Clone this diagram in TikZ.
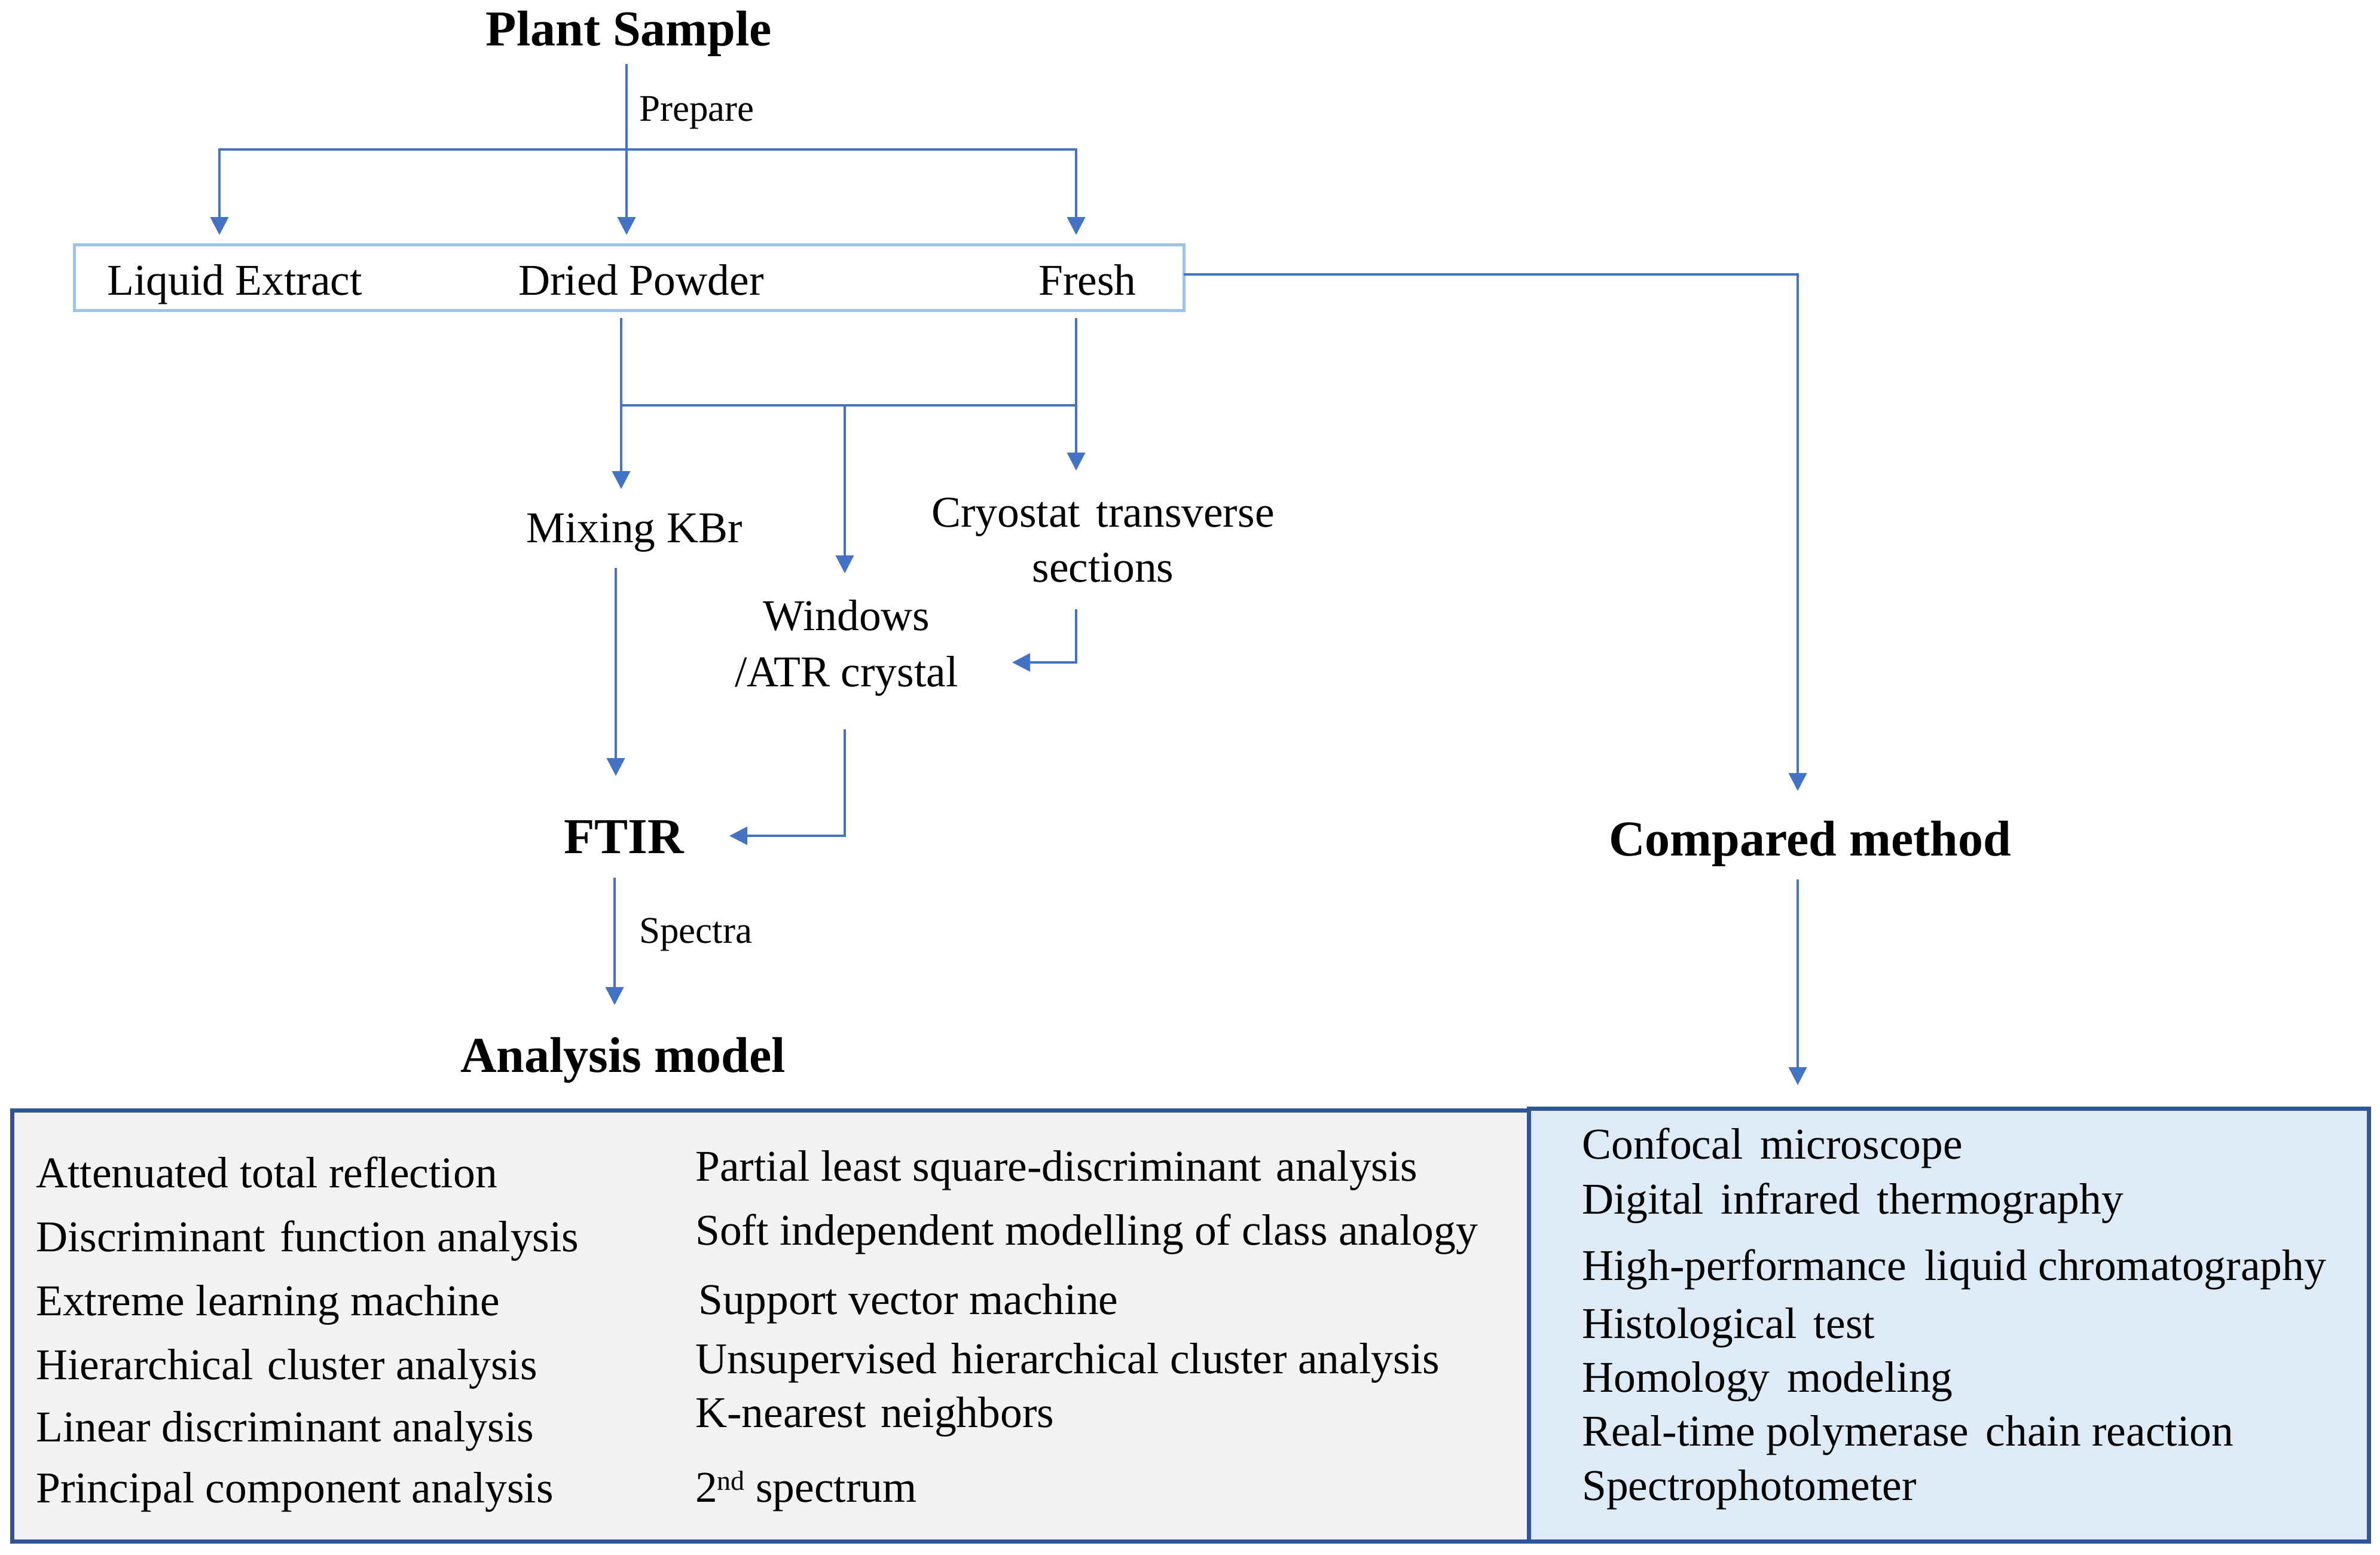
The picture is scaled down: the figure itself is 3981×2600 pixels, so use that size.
\documentclass[tikz,border=0pt]{standalone}
\usepackage{fontspec}
\setmainfont{Liberation Serif}
\usetikzlibrary{arrows.meta}
\definecolor{lineblue}{HTML}{4472C4}
\definecolor{prepborder}{HTML}{9DC3E6}
\definecolor{boxborder}{HTML}{2F5597}
\definecolor{grayfill}{HTML}{F2F2F2}
\definecolor{bluefill}{HTML}{DEEBF7}
\tikzset{
  conn/.style={draw=lineblue, line width=4pt, -{Triangle[length=30pt,width=30pt]}},
  plainconn/.style={draw=lineblue, line width=4pt},
  txt/.style={inner sep=0pt, font=\fontsize{73.5}{88}\selectfont},
  bold/.style={inner sep=0pt, font=\fontsize{84}{100}\selectfont\bfseries},
  small/.style={inner sep=0pt, font=\fontsize{63}{76}\selectfont},
  prepbox/.style={draw=prepborder, line width=5pt, inner sep=0pt},
  leftbox/.style={draw=boxborder, fill=grayfill, line width=7pt, inner sep=0pt},
  rightbox/.style={draw=boxborder, fill=bluefill, line width=7pt, inner sep=0pt}
}
\begin{document}
\begin{tikzpicture}[x=1pt,y=-1pt]
\useasboundingbox (0,0) rectangle (3981,2600);

% boxes
\node[prepbox, minimum width=1856pt, minimum height=110pt] (prep) at (1052,464) {};
\node[leftbox, minimum width=2537pt, minimum height=721pt] (lbox) at (1288.5,2217.5) {};
\node[rightbox, minimum width=1405pt, minimum height=724pt] (rbox) at (3259.5,2216) {};

% texts
\node[bold, anchor=base] (ps) at (1052,76) {Plant Sample};
\node[small, anchor=base west] (prepare) at (1069,202) {Prepare};
\node[txt, anchor=base west] (liq) at (179,493) {Liquid Extract};
\node[txt, anchor=base west] (dried) at (867,493) {Dried Powder};
\node[txt, anchor=base west] (fresh) at (1737,493) {Fresh};
\node[txt, anchor=base west] (kbr) at (880,907) {Mixing KBr};
\node[txt, anchor=base] (cryo1) at (1845,881) {Cryostat\hspace{8pt} transverse};
\node[txt, anchor=base] (cryo2) at (1845,973) {sections};
\node[txt, anchor=base] (win1) at (1416,1054) {Windows};
\node[txt, anchor=base] (win2) at (1416,1148) {/ATR crystal};
\node[bold, anchor=base west] (ftir) at (943,1427) {FTIR};
\node[small, anchor=base west] (spectra) at (1069,1577) {Spectra};
\node[bold, anchor=base] (am) at (1042,1793) {Analysis model};
\node[bold, anchor=base west] (cm) at (2691,1431) {Compared method};

% left box texts
\node[txt, anchor=base west] (l1) at (60,1986) {Attenuated total reflection};
\node[txt, anchor=base west] (l2) at (60,2093) {Discriminant\hspace{6pt} function analysis};
\node[txt, anchor=base west] (l3) at (60,2200) {Extreme learning machine};
\node[txt, anchor=base west] (l4) at (60,2307) {Hierarchical\hspace{6pt} cluster analysis};
\node[txt, anchor=base west] (l5) at (60,2411) {Linear discriminant analysis};
\node[txt, anchor=base west] (l6) at (60,2513) {Principal component analysis};
\node[txt, anchor=base west] (r1) at (1163,1975) {Partial least square-discriminant\hspace{6pt} analysis};
\node[txt, anchor=base west] (r2) at (1163,2082) {Soft independent modelling of class analogy};
\node[txt, anchor=base west] (r3) at (1168,2198) {Support vector machine};
\node[txt, anchor=base west] (r4) at (1163,2297) {Unsupervised\hspace{6pt} hierarchical cluster analysis};
\node[txt, anchor=base west] (r5) at (1163,2387) {K-nearest\hspace{6pt} neighbors};
\node[txt, anchor=base west] (r6) at (1163,2512) {2\raisebox{20pt}{\fontsize{46}{50}\selectfont nd} spectrum};

% right box texts
\node[txt, anchor=base west] (c1) at (2646,1938) {Confocal\hspace{10pt} microscope};
\node[txt, anchor=base west] (c2) at (2646,2030) {Digital\hspace{10pt} infrared\hspace{10pt} thermography};
\node[txt, anchor=base west] (c3) at (2646,2141) {High-performance\hspace{12pt} liquid chromatography};
\node[txt, anchor=base west] (c4) at (2646,2238) {Histological\hspace{10pt} test};
\node[txt, anchor=base west] (c5) at (2646,2328) {Homology\hspace{10pt} modeling};
\node[txt, anchor=base west] (c6) at (2646,2418) {Real-time polymerase\hspace{10pt} chain reaction};
\node[txt, anchor=base west] (c7) at (2646,2509) {Spectrophotometer};

% coordinates for connectors
\coordinate (psout) at (1048,107);
\coordinate (jtop) at (1048,250);
\coordinate (liqin) at (367,393);
\coordinate (driedin) at (1048,393);
\coordinate (freshin) at (1800,393);
\coordinate (driedout) at (1039,532);
\coordinate (freshout) at (1800,532);
\coordinate (jmid) at (1413,678);
\coordinate (kbrin) at (1039,818);
\coordinate (winin) at (1413,959);
\coordinate (cryoin) at (1800,787);
\coordinate (cryoout) at (1800,1019);
\coordinate (winside) at (1693,1108);
\coordinate (kbrout) at (1030,950);
\coordinate (ftirtop) at (1030,1298);
\coordinate (winout) at (1413,1220);
\coordinate (ftirside) at (1220,1398);
\coordinate (ftirout) at (1028,1468);
\coordinate (amin) at (1028,1681);
\coordinate (prepout) at (1980,459);
\coordinate (cmin) at (3007,1323);
\coordinate (cmout) at (3007,1471);
\coordinate (rboxin) at (3007,1815);

% connectors
\draw[conn] (psout) -- (driedin);
\draw[conn] (jtop) -| (liqin);
\draw[conn] (jtop) -| (freshin);
\draw[conn] (driedout) -- (kbrin);
\draw[conn] (freshout) -- (cryoin);
\draw[plainconn] (driedout |- jmid) -- (freshout |- jmid);
\draw[conn] (jmid) -- (winin);
\draw[conn] (cryoout) |- (winside);
\draw[conn] (kbrout) -- (ftirtop);
\draw[conn] (winout) |- (ftirside);
\draw[conn] (ftirout) -- (amin);
\draw[conn] (prepout) -| (cmin);
\draw[conn] (cmout) -- (rboxin);
\end{tikzpicture}
\end{document}
